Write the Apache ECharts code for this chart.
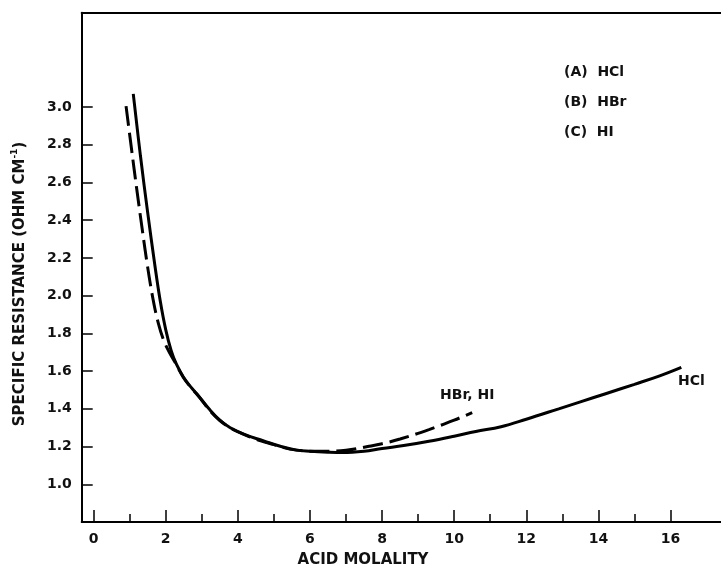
<!DOCTYPE html>
<html>
<head>
<meta charset="utf-8">
<script src="https://cdn.jsdelivr.net/npm/echarts@6/dist/echarts.min.js"></script>
<style>html,body{margin:0;padding:0;background:#fff;}#c{width:721px;height:568px;}</style>
</head>
<body>
<div id="c"></div>
<script>
// ---- data ----
var hclX = [1.10, 1.30, 1.50, 1.70, 1.85, 2.00, 2.15, 2.30, 2.49, 2.70, 2.86, 3.20, 3.50, 3.79, 4.20, 4.70, 5.20, 5.63, 6.00, 6.50, 6.90, 7.50, 8.00, 8.60, 9.30, 10.00, 10.60, 11.30, 12.00, 12.90, 13.50, 14.20, 15.00, 15.70, 16.30];
var hclY = [3.07, 2.74, 2.44, 2.16, 1.97, 1.82, 1.71, 1.635, 1.569, 1.515, 1.48, 1.40, 1.34, 1.30, 1.263, 1.231, 1.200, 1.181, 1.175, 1.170, 1.168, 1.175, 1.190, 1.205, 1.228, 1.255, 1.280, 1.305, 1.345, 1.400, 1.437, 1.480, 1.530, 1.575, 1.620];
var hbrX = [0.90, 1.05, 1.20, 1.35, 1.50, 1.65, 1.80, 1.95, 2.10, 2.25, 2.49, 2.70, 2.86, 3.50, 4.20, 5.00, 5.63, 6.30, 7.00, 7.60, 8.00, 8.50, 9.30, 10.00, 10.50];
var hbrY = [3.005, 2.78, 2.56, 2.35, 2.15, 1.98, 1.85, 1.76, 1.70, 1.65, 1.566, 1.513, 1.478, 1.338, 1.262, 1.210, 1.181, 1.175, 1.180, 1.200, 1.215, 1.240, 1.290, 1.340, 1.380];
var xMajorTicks = [0, 2, 4, 6, 8, 10, 12, 14, 16];
var xMinorTicks = [1, 3, 5, 7, 9, 11, 13, 15];
var yTicks = [1.0, 1.2, 1.4, 1.6, 1.8, 2.0, 2.2, 2.4, 2.6, 2.8, 3.0];
var legendLines = ['(A)  HCl', '(B)  HBr', '(C)  HI'];
var curveLabels = ['HBr, HI', 'HCl'];
var xTitle = 'ACID MOLALITY';

function pairs(xs, ys) { return xs.map(function (x, i) { return [x, ys[i]]; }); }

var FONT = '"DejaVu Sans", sans-serif';
var TXT = '#111';
var chart = echarts.init(document.getElementById('c'), null, { renderer: 'canvas' });
var XMIN = -0.33, XMAX = 17.4;

chart.setOption({
  animation: false,
  backgroundColor: '#fff',
  grid: { left: 81.7, right: 0, top: 12.7, bottom: 46, containLabel: false },
  xAxis: [
    {
      type: 'value', min: XMIN, max: XMAX, position: 'bottom',
      axisLine: { show: true, onZero: false, lineStyle: { color: '#000', width: 2 } },
      axisTick: { show: true, inside: true, length: 12, customValues: xMajorTicks, lineStyle: { color: '#000', width: 1.5 } },
      axisLabel: { show: true, customValues: xMajorTicks, margin: 10, color: TXT, fontSize: 14, fontWeight: 'bold', fontFamily: FONT },
      splitLine: { show: false }
    },
    {
      type: 'value', min: XMIN, max: XMAX, position: 'bottom',
      axisLine: { show: false },
      axisTick: { show: true, inside: true, length: 8, customValues: xMinorTicks, lineStyle: { color: '#000', width: 1.5 } },
      axisLabel: { show: false },
      splitLine: { show: false }
    },
    {
      type: 'value', min: XMIN, max: XMAX, position: 'top',
      axisLine: { show: true, onZero: false, lineStyle: { color: '#000', width: 2 } },
      axisTick: { show: false }, axisLabel: { show: false }, splitLine: { show: false }
    }
  ],
  yAxis: {
    type: 'value', min: 0.8, max: 3.5,
    axisLine: { show: true, onZero: false, lineStyle: { color: '#000', width: 2 } },
    axisTick: { show: true, inside: true, length: 11, customValues: yTicks, lineStyle: { color: '#000', width: 1.5 } },
    axisLabel: {
      show: true, customValues: yTicks, margin: 10, color: TXT, fontSize: 14, fontWeight: 'bold', fontFamily: FONT,
      formatter: function (v) { return v.toFixed(1); }
    },
    splitLine: { show: false }
  },
  series: [
    {
      name: 'HCl', type: 'line', xAxisIndex: 0, data: pairs(hclX, hclY),
      smooth: 0.4, showSymbol: false, symbol: 'none',
      lineStyle: { color: '#000', width: 3 }
    },
    {
      name: 'HBr, HI', type: 'line', xAxisIndex: 0, data: pairs(hbrX, hbrY),
      smooth: 0.4, showSymbol: false, symbol: 'none',
      lineStyle: { color: '#000', width: 3, type: [20, 7] }
    }
  ],
  graphic: [
    {
      type: 'text', x: 20, y: 284, rotation: Math.PI / 2,
      style: {
        text: '{a|SPECIFIC RESISTANCE (OHM CM}{s|-1}{a|)}',
        align: 'center', verticalAlign: 'middle',
        rich: {
          a: { fontSize: 15, fontWeight: 'bold', fontFamily: FONT, fill: TXT, lineHeight: 19 },
          s: { fontSize: 9, fontWeight: 'bold', fontFamily: FONT, fill: TXT, verticalAlign: 'top', lineHeight: 19, padding: [0, 0, 7, 0] }
        }
      }
    },
    {
      type: 'text', x: 363, y: 560,
      style: { text: xTitle, align: 'center', verticalAlign: 'middle', fontSize: 15, fontWeight: 'bold', fontFamily: FONT, fill: TXT }
    },
    { type: 'text', x: 564, y: 72, style: { text: legendLines[0], verticalAlign: 'middle', fontSize: 14, fontWeight: 'bold', fontFamily: FONT, fill: TXT } },
    { type: 'text', x: 564, y: 102, style: { text: legendLines[1], verticalAlign: 'middle', fontSize: 14, fontWeight: 'bold', fontFamily: FONT, fill: TXT } },
    { type: 'text', x: 564, y: 132, style: { text: legendLines[2], verticalAlign: 'middle', fontSize: 14, fontWeight: 'bold', fontFamily: FONT, fill: TXT } },
    { type: 'text', x: 440, y: 395, style: { text: curveLabels[0], verticalAlign: 'middle', fontSize: 14, fontWeight: 'bold', fontFamily: FONT, fill: TXT } },
    { type: 'text', x: 678, y: 381, style: { text: curveLabels[1], verticalAlign: 'middle', fontSize: 14, fontWeight: 'bold', fontFamily: FONT, fill: TXT } }
  ]
});
</script>
</body>
</html>
